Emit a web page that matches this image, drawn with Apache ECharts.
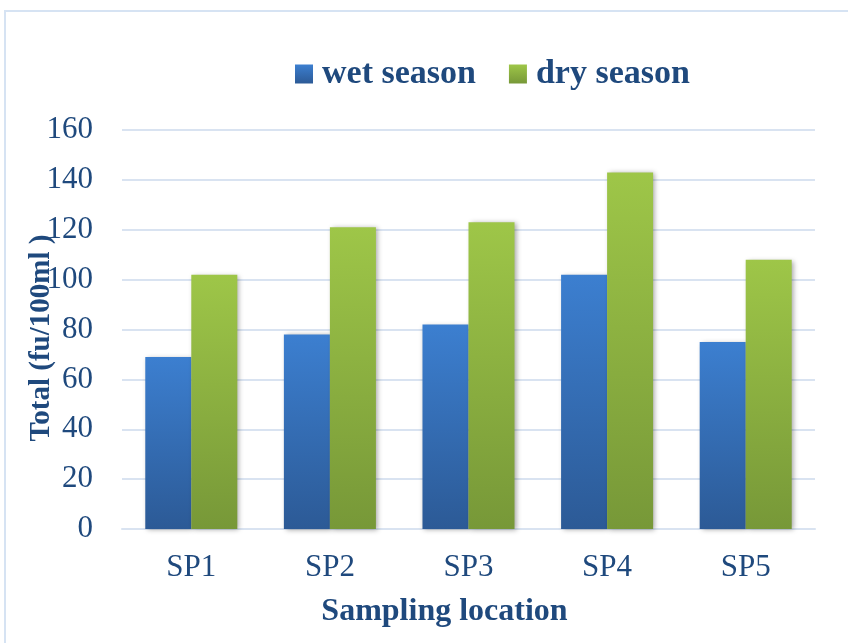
<!DOCTYPE html>
<html>
<head>
<meta charset="utf-8">
<script src="https://cdn.jsdelivr.net/npm/echarts@6/dist/echarts.min.js"></script>
<style>
html,body{margin:0;padding:0;background:#fff;}
#chart{width:848px;height:643px;}
</style>
</head>
<body>
<div id="chart"></div>
<script>
var categories = ['SP1', 'SP2', 'SP3', 'SP4', 'SP5'];
var wetSeason = [69, 78, 82, 102, 75];
var drySeason = [102, 121, 123, 143, 108];
var seriesNames = ['wet season', 'dry season'];
var yAxisTitle = 'Total (fu/100ml )';
var xAxisTitle = 'Sampling location';

var textColor = '#1f497d';
var gridColor = '#d9e3f1';
var font = '"Liberation Serif", "Times New Roman", serif';

function grad(top, bottom) {
  return new echarts.graphic.LinearGradient(0, 0, 0, 1, [
    {offset: 0, color: top}, {offset: 1, color: bottom}
  ]);
}

var chart = echarts.init(document.getElementById('chart'), null, {renderer: 'canvas'});
chart.setOption({
  backgroundColor: '#ffffff',
  animation: false,
  graphic: [{
    type: 'rect',
    shape: {x: 5, y: 11, width: 900, height: 700},
    style: {fill: 'none', stroke: '#d6e3f3', lineWidth: 2},
    silent: true
  }],
  legend: {
    left: 290,
    top: 52,
    itemWidth: 18,
    itemHeight: 19,
    itemGap: 33,
    icon: 'rect',
    textStyle: {fontFamily: font, fontWeight: 'bold', fontSize: 34, color: textColor, padding: [0, 0, 0, 4]},
    data: seriesNames
  },
  grid: {left: 122, right: 33, top: 130, bottom: 114},
  xAxis: {
    type: 'category',
    data: categories,
    name: xAxisTitle,
    nameLocation: 'middle',
    nameGap: 67,
    nameMoveOverlap: false,
    nameTextStyle: {fontFamily: font, fontWeight: 'bold', fontSize: 32, color: textColor, padding: [0, 48, 0, 0]},
    axisTick: {show: false},
    axisLine: {lineStyle: {color: gridColor, width: 2}},
    axisLabel: {fontFamily: font, fontSize: 31, color: textColor, margin: 23}
  },
  yAxis: {
    type: 'value',
    min: 0, max: 160, interval: 20,
    name: yAxisTitle,
    nameLocation: 'middle',
    nameGap: 66,
    nameMoveOverlap: false,
    nameTextStyle: {fontFamily: font, fontWeight: 'bold', fontSize: 29, color: textColor, padding: [0, 17, 0, 0]},
    axisLine: {show: false},
    axisTick: {show: false},
    splitLine: {lineStyle: {color: gridColor, width: 2}},
    axisLabel: {fontFamily: font, fontSize: 31, color: textColor, margin: 29}
  },
  series: [{
    name: seriesNames[0],
    type: 'bar',
    data: wetSeason,
    barGap: '0%',
    barCategoryGap: '33.6%',
    itemStyle: {color: grad('#3c7fd0', '#2c5a96'), shadowColor: 'rgba(0,0,0,0.35)', shadowBlur: 5, shadowOffsetX: 2, shadowOffsetY: 1}
  }, {
    name: seriesNames[1],
    type: 'bar',
    data: drySeason,
    barGap: '0%',
    barCategoryGap: '33.6%',
    itemStyle: {color: grad('#9ec648', '#779838'), shadowColor: 'rgba(0,0,0,0.35)', shadowBlur: 5, shadowOffsetX: 2, shadowOffsetY: 1}
  }]
});
</script>
</body>
</html>
